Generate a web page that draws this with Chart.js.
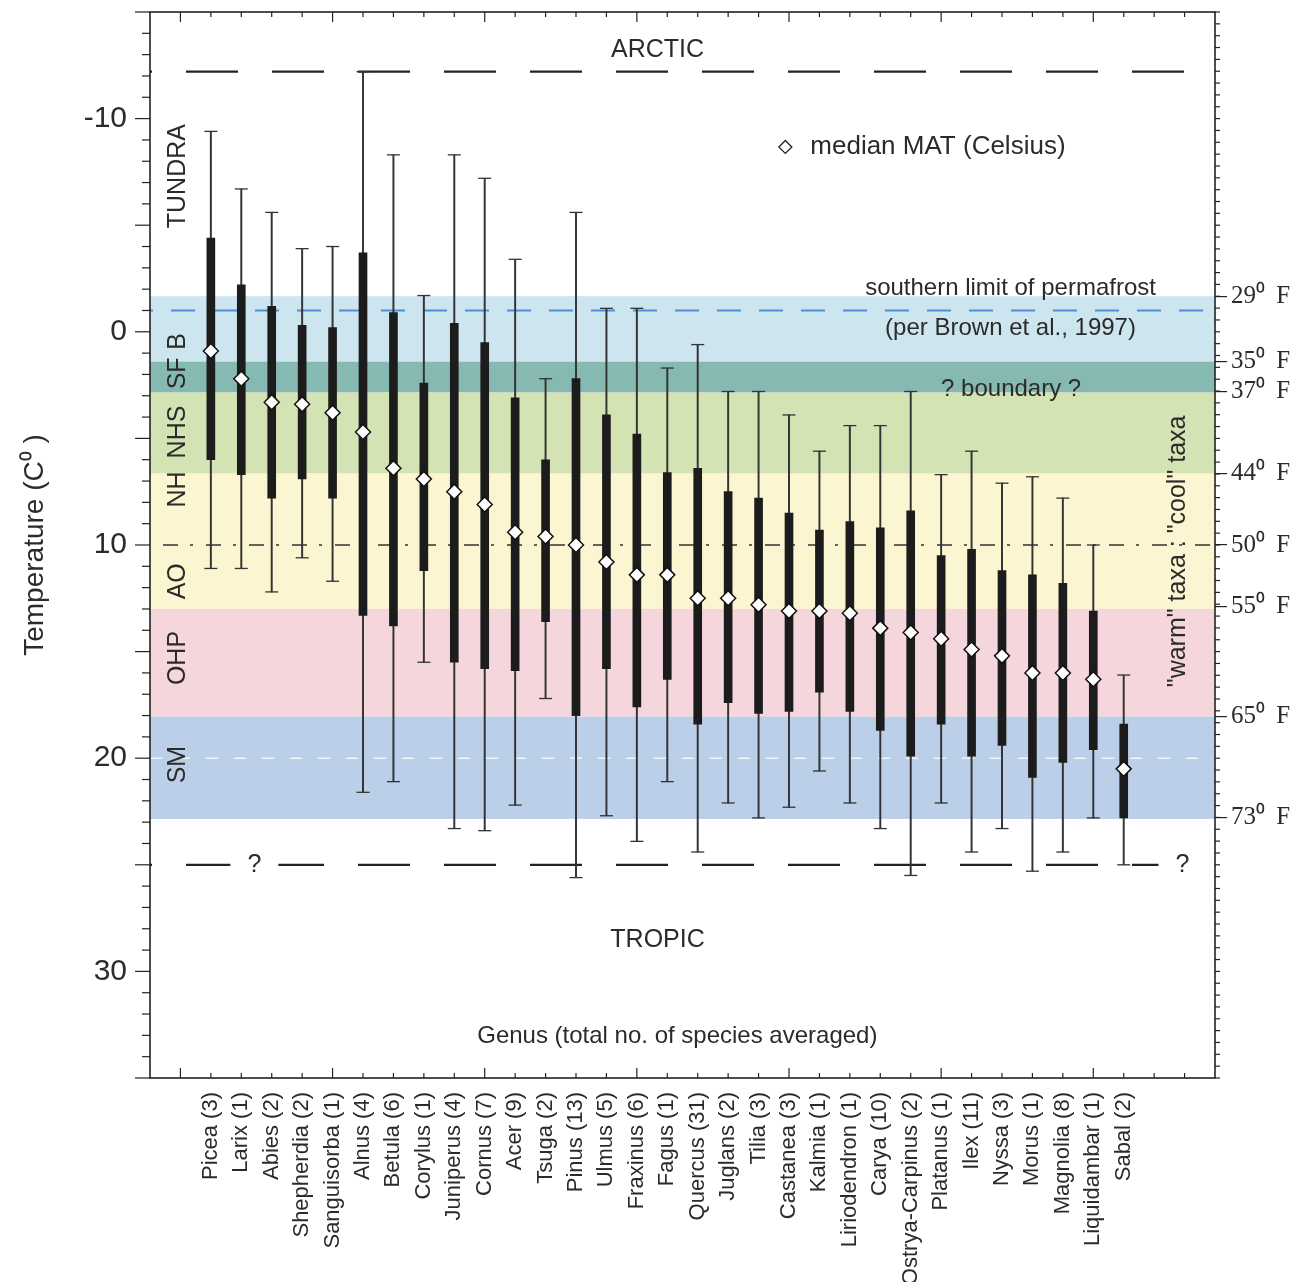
<!DOCTYPE html>
<html>
<head>
<meta charset="utf-8">
<script src="https://cdn.jsdelivr.net/npm/chart.js@4.4.0/dist/chart.umd.min.js"></script>
<style>
  html, body { margin: 0; padding: 0; background: #fff; }
</style>
</head>
<body>
<canvas id="myChart" width="1305" height="1282"></canvas>
<script>
'use strict';

// genus (total no. of species averaged)
let genera = [
  'Picea (3)', 'Larix (1)', 'Abies (2)', 'Shepherdia (2)', 'Sanguisorba (1)',
  'Alnus (4)', 'Betula (6)', 'Corylus (1)', 'Juniperus (4)', 'Cornus (7)',
  'Acer (9)', 'Tsuga (2)', 'Pinus (13)', 'Ulmus (5)', 'Fraxinus (6)',
  'Fagus (1)', 'Quercus (31)', 'Juglans (2)', 'Tilia (3)', 'Castanea (3)',
  'Kalmia (1)', 'Liriodendron (1)', 'Carya (10)', 'Ostrya-Carpinus (2)', 'Platanus (1)',
  'Ilex (11)', 'Nyssa (3)', 'Morus (1)', 'Magnolia (8)', 'Liquidambar (1)',
  'Sabal (2)'
];

// MAT values in Celsius
let coldEnd = [ -9.4, -6.7, -5.6, -3.9, -4.0, -12.2, -8.3, -1.7, -8.3, -7.2, -3.4, 2.2, -5.6, -1.1, -1.1, 1.7, 0.6, 2.8, 2.8, 3.9, 5.6, 4.4, 4.4, 2.8, 6.7, 5.6, 7.1, 6.8, 7.8, 10.0, 16.1 ];
let coldQuart = [ -4.4, -2.2, -1.2, -0.3, -0.2, -3.7, -0.9, 2.4, -0.4, 0.5, 3.1, 6.0, 2.2, 3.9, 4.8, 6.6, 6.4, 7.5, 7.8, 8.5, 9.3, 8.9, 9.2, 8.4, 10.5, 10.2, 11.2, 11.4, 11.8, 13.1, 18.4 ];
let medianMat = [ 0.9, 2.2, 3.3, 3.4, 3.8, 4.7, 6.4, 6.9, 7.5, 8.1, 9.4, 9.6, 10.0, 10.8, 11.4, 11.4, 12.5, 12.5, 12.8, 13.1, 13.1, 13.2, 13.9, 14.1, 14.4, 14.9, 15.2, 16.0, 16.0, 16.3, 20.5 ];
let warmQuart = [ 6.0, 6.7, 7.8, 6.9, 7.8, 13.3, 13.8, 11.2, 15.5, 15.8, 15.9, 13.6, 18.0, 15.8, 17.6, 16.3, 18.4, 17.4, 17.9, 17.8, 16.9, 17.8, 18.7, 19.9, 18.4, 19.9, 19.4, 20.9, 20.2, 19.6, 22.8 ];
let warmEnd = [ 11.1, 11.1, 12.2, 10.6, 11.7, 21.6, 21.1, 15.5, 23.3, 23.4, 22.2, 17.2, 25.6, 22.7, 23.9, 21.1, 24.4, 22.1, 22.8, 22.3, 20.6, 22.1, 23.3, 25.5, 22.1, 24.4, 23.3, 25.3, 24.4, 22.8, 25.0 ];

// vegetation zones (Celsius)
let bandFrom = [ -1.67, 1.4, 2.85, 6.65, 13.0, 18.05 ];
let bandTo = [ 1.4, 2.85, 6.65, 13.0, 18.05, 22.85 ];
let bandColors = [ '#cde5ee', '#86b9b2', '#d4e3b3', '#fbf5d1', '#f6d6dd', '#bccfe9' ];
let zoneNames = [ 'TUNDRA', 'B', 'SF', 'NHS', 'NH', 'AO', 'OHP', 'SM' ];
let zoneMid = [ -7.3, 0.45, 1.95, 4.7, 7.4, 11.7, 15.3, 20.3 ];

// right axis, Fahrenheit labels at zone limits
let fahrLabels = [ 29, 35, 37, 44, 50, 55, 65, 73 ];
let fahrAtC = [ -1.67, 1.4, 2.8, 6.65, 10, 12.9, 18.05, 22.8 ];

let yTicks = [ -10, 0, 10, 20, 30 ];

let arcticLimit = -12.2;
let tropicLimit = 25;
let permafrostLimit = -1.0;
let coolWarmSplit = 10;
let smMidLine = 20;

const FONT = '"Liberation Sans", Arial, sans-serif';
const INK = '#2b2b2b';

function hLine( value, color, width, dash, offset ) {
  return {
    type: 'line',
    data: [{ x: -1, y: value }, { x: 34, y: value }],
    borderColor: color,
    borderWidth: width,
    borderDash: dash,
    borderDashOffset: offset,
    pointRadius: 0,
    order: 9
  };
}

function text( ctx, str, px, py, size, align, rot ) {
  ctx.save();
  ctx.translate( px, py );
  if ( rot ) {
    ctx.rotate( -Math.PI / 2 );
  }
  ctx.font = `${size}px ${FONT}`;
  ctx.fillStyle = INK;
  ctx.textAlign = align || 'center';
  ctx.textBaseline = 'middle';
  ctx.fillText( str, 0, 0 );
  ctx.restore();
}

function tick( ctx, x1, y1, x2, y2 ) {
  ctx.beginPath();
  ctx.moveTo( x1, y1 );
  ctx.lineTo( x2, y2 );
  ctx.stroke();
}

function fixWidth( w ) {
  return function ( s ) {
    s.width = w;
    s.paddingTop = 0;
    s.paddingBottom = 0;
  };
}

const zones = {
  id: 'zones',
  beforeDatasetsDraw( chart ) {
    const { ctx, chartArea: a, scales: { y } } = chart;
    ctx.save();
    for ( let i = 0; i < bandFrom.length; i++ ) {
      let t = y.getPixelForValue( bandFrom[i] );
      let b = y.getPixelForValue( bandTo[i] );
      ctx.fillStyle = bandColors[i];
      ctx.fillRect( a.left, t, a.right - a.left, b - t );
    }
    ctx.restore();
  }
};

const overlay = {
  id: 'overlay',
  afterDatasetsDraw( chart ) {
    const { ctx, chartArea: a, scales: { x, y } } = chart;
    ctx.save();
    ctx.strokeStyle = '#222';
    ctx.lineWidth = 1.2;

    // left ticks, outward
    for ( let v = -15; v <= 35; v++ ) {
      let py = y.getPixelForValue( v );
      let len = v % 5 === 0 ? 15 : 8;
      tick( ctx, a.left - len, py, a.left, py );
    }
    // top and bottom ticks, inward
    for ( let v = 0; v <= 33; v++ ) {
      let px = x.getPixelForValue( v );
      let len = v % 5 === 0 ? 10 : 5;
      tick( ctx, px, a.bottom, px, a.bottom - len );
      tick( ctx, px, a.top, px, a.top + len );
    }
    // right minor ticks every degree F
    for ( let f = 5; f <= 95; f++ ) {
      let c = ( f - 32 ) * 5 / 9;
      if ( c < -15 || c > 35 ) continue;
      let py = y.getPixelForValue( c );
      tick( ctx, a.right, py, a.right + 5, py );
    }

    ctx.lineWidth = 1.6;
    ctx.strokeRect( a.left, a.top, a.right - a.left, a.bottom - a.top );

    // zone names
    for ( let i = 0; i < zoneNames.length; i++ ) {
      text( ctx, zoneNames[i], x.getPixelForValue( -0.07 ), y.getPixelForValue( zoneMid[i] ), 25, 'center', true );
    }

    text( ctx, 'ARCTIC', x.getPixelForValue( 15.68 ), y.getPixelForValue( -13.22 ), 25 );
    text( ctx, 'TROPIC', x.getPixelForValue( 15.68 ), y.getPixelForValue( 28.55 ), 25 );
    text( ctx, 'Genus (total no. of species averaged)', x.getPixelForValue( 16.33 ), y.getPixelForValue( 33.05 ), 24 );
    text( ctx, 'southern limit of permafrost', x.getPixelForValue( 27.28 ), y.getPixelForValue( -2.02 ), 24 );
    text( ctx, '(per Brown et al., 1997)', x.getPixelForValue( 27.28 ), y.getPixelForValue( -0.14 ), 24 );
    text( ctx, '? boundary ?', x.getPixelForValue( 27.3 ), y.getPixelForValue( 2.72 ), 24 );
    text( ctx, '"warm" taxa : "cool" taxa', x.getPixelForValue( 32.8 ), y.getPixelForValue( 10.3 ), 25, 'center', true );

    // question marks sit in gaps of the tropic line
    let qy = y.getPixelForValue( tropicLimit );
    [ 2.43, 32.93 ].forEach( function ( qx ) {
      let px = x.getPixelForValue( qx );
      ctx.fillStyle = '#fff';
      ctx.fillRect( px - 24, qy - 4, 48, 8 );
      text( ctx, '?', px, qy, 25 );
    } );

    // legend
    let lx = x.getPixelForValue( 19.88 );
    let ly = y.getPixelForValue( -8.67 );
    ctx.beginPath();
    ctx.moveTo( lx, ly - 6.5 );
    ctx.lineTo( lx + 6.5, ly );
    ctx.lineTo( lx, ly + 6.5 );
    ctx.lineTo( lx - 6.5, ly );
    ctx.closePath();
    ctx.fillStyle = '#fff';
    ctx.fill();
    ctx.lineWidth = 1.3;
    ctx.stroke();
    text( ctx, 'median MAT (Celsius)', x.getPixelForValue( 20.7 ), ly, 26, 'left' );

    ctx.restore();
  }
};

let whiskerData = [];
let boxData = [];
let capData = [];
let medianData = [];
for ( let i = 0; i < genera.length; i++ ) {
  whiskerData.push( { x: i + 1, y: [coldEnd[i], warmEnd[i]] } );
  boxData.push( { x: i + 1, y: [coldQuart[i], warmQuart[i]] } );
  capData.push( { x: i + 1, y: coldEnd[i] } );
  capData.push( { x: i + 1, y: warmEnd[i] } );
  medianData.push( { x: i + 1, y: medianMat[i] } );
}

let ctx = document.getElementById( 'myChart' ).getContext( '2d' );
// eslint-disable-next-line no-unused-vars
let myChart = new Chart( ctx, {
  type: 'bar',
  data: {
    datasets: [
      hLine( arcticLimit, '#222', 2.2, [52, 34], 50 ),
      hLine( tropicLimit, '#222', 2.2, [52, 34], 50 ),
      hLine( permafrostLimit, '#4b8fd6', 2, [24, 18], 21 ),
      hLine( coolWarmSplit, '#333', 1.5, [15, 12, 3, 13], 30 ),
      hLine( smMidLine, 'rgba(255,255,255,0.8)', 1.5, [12, 16], 0 ),
      {
        type: 'bar',
        data: whiskerData,
        backgroundColor: '#333',
        barThickness: 1.3,
        grouped: false,
        order: 5
      },
      {
        type: 'bar',
        data: boxData,
        backgroundColor: '#1c1c1c',
        barThickness: 8,
        grouped: false,
        order: 4
      },
      {
        type: 'line',
        data: capData,
        showLine: false,
        pointStyle: 'line',
        pointRadius: 6.5,
        pointBorderColor: '#333',
        pointBorderWidth: 1.3,
        order: 3
      },
      {
        type: 'line',
        data: medianData,
        showLine: false,
        pointStyle: 'rectRot',
        pointRadius: 7.5,
        pointBackgroundColor: '#fff',
        pointBorderColor: '#111',
        pointBorderWidth: 1.5,
        order: 1
      }
    ]
  },
  options: {
    responsive: false,
    animation: false,
    devicePixelRatio: 1,
    layout: { padding: { top: 12, left: 0, right: 0, bottom: 0 } },
    plugins: {
      legend: { display: false },
      tooltip: { enabled: false }
    },
    scales: {
      x: {
        type: 'linear',
        min: -1,
        max: 34,
        offset: false,
        afterFit: function ( s ) { s.height = 204; s.paddingLeft = 0; s.paddingRight = 0; },
        afterBuildTicks: function ( s ) { s.ticks = genera.map( ( g, i ) => ( { value: i + 1 } ) ); },
        ticks: {
          autoSkip: false,
          minRotation: 90,
          maxRotation: 90,
          padding: 14,
          color: INK,
          font: { family: FONT, size: 22 },
          callback: ( v ) => genera[v - 1]
        },
        grid: { display: false, drawTicks: false },
        border: { display: false }
      },
      y: {
        type: 'linear',
        min: -15,
        max: 35,
        reverse: true,
        afterFit: fixWidth( 150 ),
        afterBuildTicks: function ( s ) { s.ticks = yTicks.map( ( v ) => ( { value: v } ) ); },
        ticks: {
          padding: 23,
          color: INK,
          font: { family: FONT, size: 30 },
          callback: ( v ) => String( v )
        },
        grid: { display: false, drawTicks: false },
        border: { display: false },
        title: {
          display: true,
          text: 'Temperature (C\u2070 )',
          color: INK,
          font: { family: FONT, size: 28 },
          padding: { top: 18, bottom: 0 }
        }
      },
      y2: {
        type: 'linear',
        position: 'right',
        min: -15,
        max: 35,
        reverse: true,
        afterFit: fixWidth( 90 ),
        afterBuildTicks: function ( s ) { s.ticks = fahrAtC.map( ( v ) => ( { value: v } ) ); },
        ticks: {
          padding: 4,
          color: INK,
          font: { family: '"Liberation Serif", "Times New Roman", serif', size: 25 },
          callback: ( v, i ) => fahrLabels[i] + '\u2070\u2009 F'
        },
        grid: { drawOnChartArea: false, tickLength: 12, color: '#222', lineWidth: 1.2 },
        border: { display: false }
      }
    }
  },
  plugins: [zones, overlay]
} );
</script>
</body>
</html>
